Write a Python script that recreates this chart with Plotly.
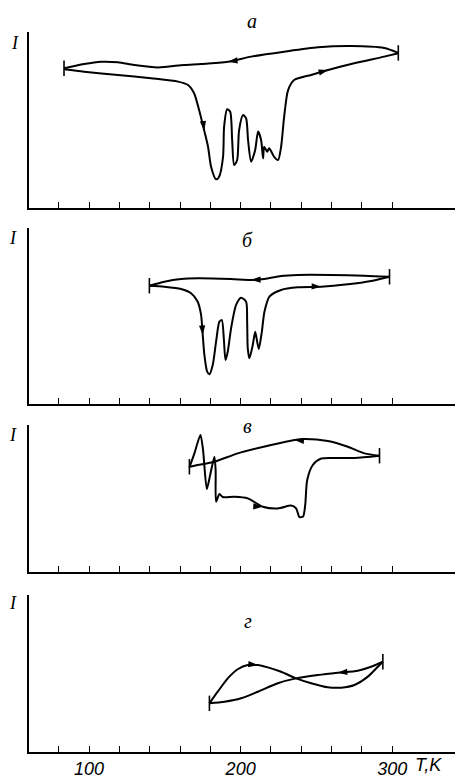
import plotly.graph_objects as go

# ---------------- data (T in K, I in arbitrary units, axis top = 10) ----------------
tick_T = [80, 100, 120, 140, 160, 180, 200, 220, 240, 260, 280, 300]
tick_labels = ["", "100", "", "", "", "", "200", "", "", "", "", "300"]

# panel a
a_cool_T = [304.0, 294.7, 272.9, 251.1, 228.7, 206.9, 191.7, 173.9, 162.7, 145.5, 129.7, 119.1, 107.9, 96.7, 83.5]
a_cool_I = [8.81, 9.09, 9.20, 9.13, 8.88, 8.60, 8.31, 8.18, 8.13, 7.99, 8.13, 8.28, 8.31, 8.18, 7.94]
a_heat_T = [83.5, 96.7, 119.1, 140.9, 158.7, 165.3, 169.3, 172.6, 175.9, 178.5, 180.5, 183.8, 185.8, 188.4,
            189.1, 191.1, 193.1, 194.4, 195.7, 197.7, 199.0, 201.6, 203.6, 204.9, 206.9, 209.6, 211.5, 213.5,
            214.8, 215.5, 217.5, 218.8, 220.8, 222.1, 224.7, 226.7, 228.7, 231.3, 235.3, 246.5, 257.7, 272.9,
            294.7, 304.0]
a_heat_I = [7.88, 7.74, 7.56, 7.37, 7.18, 6.99, 6.52, 5.57, 4.43, 3.48, 2.35, 1.63, 1.78, 2.91,
            4.62, 5.61, 5.47, 3.86, 2.44, 2.73, 4.43, 5.28, 5.10, 3.86, 2.63, 3.30, 4.34, 3.86,
            2.82, 3.48, 3.20, 3.39, 3.11, 2.91, 2.73, 3.48, 5.19, 6.70, 7.27, 7.56, 7.84, 8.18,
            8.60, 8.79]
a_arrow_T = [191.7, 176.0, 257.7]
a_arrow_I = [8.31, 4.40, 7.84]

# panel б
b_cool_T = [298.2, 281.7, 259.7, 237.7, 226.7, 215.7, 206.9, 193.7, 171.7, 160.7, 149.7, 139.8]
b_cool_I = [7.23, 7.29, 7.33, 7.33, 7.27, 7.10, 7.05, 7.10, 7.14, 7.10, 6.95, 6.72]
b_heat_T = [139.8, 149.7, 160.7, 167.3, 171.7, 173.9, 175.0, 176.1, 177.9, 179.4, 181.6, 183.8, 186.0,
            187.6, 188.9, 190.0, 191.5, 193.7, 197.0, 200.3, 203.6, 204.3, 204.7, 205.8, 208.0, 209.6,
            210.9, 212.0, 214.0, 215.7, 219.0, 226.7, 237.7, 253.1, 270.7, 286.1, 298.2]
b_heat_I = [6.72, 6.66, 6.53, 6.29, 5.81, 5.06, 3.92, 2.78, 1.84, 1.69, 2.22, 3.54, 4.68,
            4.77, 3.73, 2.50, 2.97, 4.30, 5.63, 6.04, 5.81, 4.68, 3.16, 2.60, 3.35, 4.11,
            3.54, 3.13, 4.11, 5.24, 6.10, 6.48, 6.63, 6.66, 6.80, 6.99, 7.23]
b_arrow_T = [206.9, 175.0, 253.1]
b_arrow_I = [7.05, 3.92, 6.66]

# panel в
v_cool_T = [291.6, 281.7, 270.7, 257.5, 242.1, 235.5, 220.1, 198.1, 182.7, 171.7, 166.2]
v_cool_I = [7.91, 8.07, 8.52, 8.91, 9.05, 8.98, 8.64, 8.07, 7.50, 7.28, 7.16]
v_heat_T = [166.2, 169.5, 173.5, 175.2, 177.7, 179.9, 182.7, 183.5, 183.8, 186.0, 188.2, 195.9, 204.7,
            214.6, 224.5, 233.3, 236.6, 238.8, 241.2, 242.6, 243.9, 247.6, 253.1, 261.9, 275.1, 291.6]
v_heat_I = [7.11, 8.07, 9.32, 8.30, 5.65, 6.60, 7.84, 6.94, 4.78, 5.31, 5.10, 5.12, 5.01,
            4.44, 4.32, 4.52, 4.33, 3.74, 3.78, 4.56, 6.26, 7.28, 7.72, 7.76, 7.76, 7.91]
v_arrow_T = [235.5, 214.6]
v_arrow_I = [8.98, 4.44]

# panel г
g_heat_T = [179.4, 184.9, 191.5, 198.1, 204.7, 211.3, 217.9, 226.7, 236.6, 246.5, 257.5, 266.3, 275.1,
            283.9, 290.5, 293.8]
g_heat_I = [3.10, 3.84, 4.69, 5.27, 5.54, 5.54, 5.39, 5.11, 4.69, 4.38, 4.12, 4.10, 4.27,
            4.80, 5.43, 5.75]
g_cool_T = [293.8, 286.1, 277.3, 264.1, 250.9, 236.6, 224.5, 211.3, 200.3, 189.3, 179.4]
g_cool_I = [5.75, 5.43, 5.18, 5.05, 4.90, 4.69, 4.38, 3.84, 3.42, 3.20, 3.10]
g_arrow_T = [211.3, 264.1]
g_arrow_I = [5.54, 5.05]

panel_letters = ["а", "б", "в", "г"]
y_label = "I"
x_unit = "T,K"

# ---------------- styles ----------------
W, H = 461, 779
X_LEFT_PX, X_RIGHT_PX = 29, 455
T_LEFT, T_RIGHT = 60.4, 341.4
panels_px = [(32, 208), (228, 404), (425, 572), (595, 752)]  # (top, bottom) pixel rows
arrow_angles = [[262, 172, 75], [268, 176, 92], [275, 92], [95, 265]]
letter_px = [(252, 21), (247, 240), (247, 426), (248, 621)]
ilabel_px = [(15, 43), (13, 238), (13, 435), (13, 603)]
LINE_W = 2.0

fig = go.Figure()

panels = [
    (a_cool_T, a_cool_I, a_heat_T, a_heat_I, a_arrow_T, a_arrow_I),
    (b_cool_T, b_cool_I, b_heat_T, b_heat_I, b_arrow_T, b_arrow_I),
    (v_cool_T, v_cool_I, v_heat_T, v_heat_I, v_arrow_T, v_arrow_I),
    (g_cool_T, g_cool_I, g_heat_T, g_heat_I, g_arrow_T, g_arrow_I),
]

for k, (cT, cI, hT, hI, arT, arI) in enumerate(panels):
    sfx = "" if k == 0 else str(k + 1)
    xa, ya = "x" + sfx, "y" + sfx
    for TT, II in ((cT, cI), (hT, hI)):
        fig.add_trace(go.Scatter(x=TT, y=II, xaxis=xa, yaxis=ya, mode="lines",
                                 line=dict(color="black", width=LINE_W, shape="spline", smoothing=0.7),
                                 hoverinfo="skip", showlegend=False))
    # arrows
    fig.add_trace(go.Scatter(x=arT, y=arI, xaxis=xa, yaxis=ya, mode="markers",
                             marker=dict(symbol="arrow", size=10, color="black",
                                         angle=arrow_angles[k], line=dict(width=0)),
                             hoverinfo="skip", showlegend=False))
    # end bars
    ends_T = [cT[0], cT[-1]]
    ends_I = [cI[0], cI[-1]]
    fig.add_trace(go.Scatter(x=ends_T, y=ends_I, xaxis=xa, yaxis=ya, mode="markers",
                             marker=dict(symbol="line-ns", size=11, color="black",
                                         line=dict(width=1.6, color="black")),
                             hoverinfo="skip", showlegend=False))

layout = dict(width=W, height=H, margin=dict(l=0, r=0, t=0, b=0, autoexpand=False),
              paper_bgcolor="white", plot_bgcolor="white", showlegend=False)

for k, (top, bot) in enumerate(panels_px):
    sfx = "" if k == 0 else str(k + 1)
    last = (k == 3)
    layout["xaxis" + sfx] = dict(
        domain=[X_LEFT_PX / W, X_RIGHT_PX / W], range=[T_LEFT, T_RIGHT],
        anchor="y" + sfx, showgrid=False, zeroline=False,
        showline=True, linecolor="black", linewidth=1.5,
        ticks="inside", ticklen=6, tickwidth=1, tickcolor="black",
        tickmode="array", tickvals=tick_T,
        ticktext=tick_labels if last else [""] * len(tick_T),
        showticklabels=last,
        tickfont=dict(family="Liberation Sans Narrow, Liberation Sans, sans-serif", size=18,
                      color="black", style="italic"),
        fixedrange=True)
    layout["yaxis" + sfx] = dict(
        domain=[1 - bot / H, 1 - top / H], range=[0, 10],
        anchor="x" + sfx, showgrid=False, zeroline=False,
        showline=True, linecolor="black", linewidth=1.5,
        showticklabels=False, ticks="", fixedrange=True)

fig.update_layout(**layout)

ann = []
for k in range(4):
    lx, ly = letter_px[k]
    ann.append(dict(x=lx / W, y=1 - ly / H, xref="paper", yref="paper", text=panel_letters[k],
                    showarrow=False, xanchor="center", yanchor="middle",
                    font=dict(family="Liberation Serif, DejaVu Serif, serif", size=20,
                              color="black", style="italic")))
    ix, iy = ilabel_px[k]
    ann.append(dict(x=ix / W, y=1 - iy / H, xref="paper", yref="paper", text=y_label,
                    showarrow=False, xanchor="center", yanchor="middle",
                    font=dict(family="Liberation Serif, DejaVu Serif, serif", size=18,
                              color="black", style="italic")))
ann.append(dict(x=428 / W, y=1 - 765 / H, xref="paper", yref="paper", text=x_unit,
                showarrow=False, xanchor="center", yanchor="middle",
                font=dict(family="Liberation Sans Narrow, Liberation Sans, sans-serif", size=18,
                          color="black", style="italic")))
fig.update_layout(annotations=ann)

fig.write_html("out.html", config={"displayModeBar": False},
               post_script="document.body.style.margin='0';document.body.style.overflow='hidden';")
